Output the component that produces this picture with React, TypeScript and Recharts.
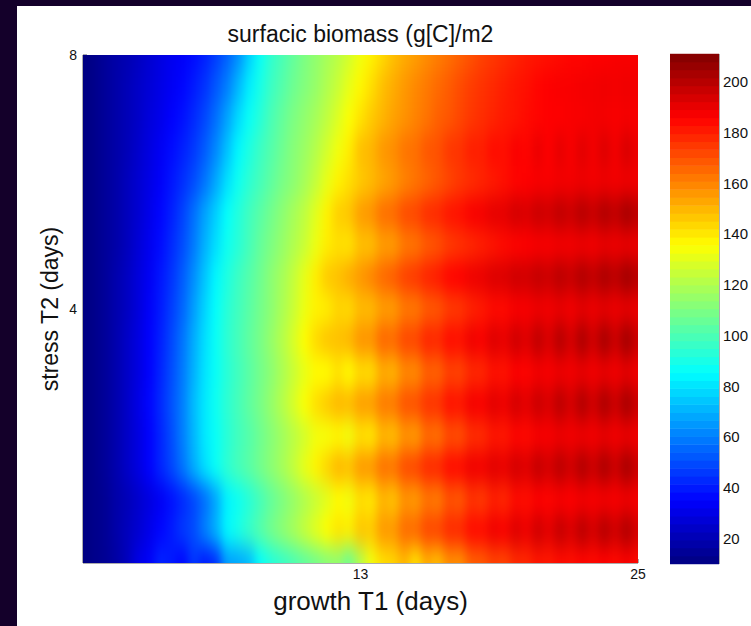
import { Scatter, ScatterChart, XAxis, YAxis } from "recharts";

// growth T1 (days) sample positions, left to right
const t1Grid = [1, 1.48, 1.96, 2.44, 2.92, 3.4, 3.88, 4.36, 4.84, 5.32, 5.8, 6.28, 6.76, 7.24, 7.72, 8.2, 8.68, 9.16, 9.64, 10.12, 10.6, 11.08, 11.56, 12.04, 12.52, 13, 13.48, 13.96, 14.44, 14.92, 15.4, 15.88, 16.36, 16.84, 17.32, 17.8, 18.28, 18.76, 19.24, 19.72, 20.2, 20.68, 21.16, 21.64, 22.12, 22.6, 23.08, 23.56, 24.04, 24.52, 25];
// stress T2 (days) sample positions, top to bottom
const t2Grid = [8, 7.5, 7, 6.5, 6, 5.5, 5, 4.5, 4, 3.5, 3, 2.5, 2, 1.5, 1, 0.5, 0];

// biomass, one row per t2Grid entry
const t2r8 = [10,12,15,18,20,23,26,29,32,34,37,41,47,54,63,76,87,95,100,105,110,114,118,122,127,133,138,143,148,152,155,158,161,164,167,170,173,175,177,179,181,182,183,184,185,185,186,186,187,187,187];
const t2r75 = [10,12,15,18,21,24,27,30,33,36,40,45,52,60,71,82,90,97,102,107,111,115,120,125,131,137,142,148,152,156,159,162,165,168,171,174,176,178,180,182,183,185,186,187,187,188,188,189,188,189,188];
const t2r7 = [10,12,15,18,21,24,28,31,35,38,43,49,57,67,78,87,93,100,105,110,114,118,123,129,135,141,146,150,154,157,160,163,167,169,172,175,177,179,181,182,184,185,186,186,187,187,188,188,187,188,187];
const t2r65 = [10,12,15,18,21,25,29,33,37,41,46,53,62,73,84,91,97,102,107,112,116,121,127,133,139,148,150,156,158,163,164,169,170,175,176,180,180,184,183,187,185,190,186,191,187,192,188,193,188,194,189];
const t2r6 = [10,12,15,18,22,26,30,34,39,44,50,58,68,79,88,94,99,104,109,113,118,124,131,138,142,146,149,153,156,160,163,166,169,172,175,177,179,181,183,185,186,187,187,188,188,189,188,189,188,189,188];
const t2r55 = [10,12,15,18,22,26,31,36,41,48,57,67,76,86,92,98,103,108,113,118,123,130,138,145,147,155,157,164,165,171,172,177,178,182,183,187,188,191,191,195,193,197,195,199,196,201,197,202,198,204,199];
const t2r5 = [10,12,15,18,22,27,32,37,43,50,59,70,79,88,93,99,105,110,115,120,125,132,139,142,141,148,148,155,155,162,163,168,170,174,176,178,180,182,184,185,186,187,187,188,188,189,188,190,189,190,189];
const t2r45 = [10,12,15,19,23,28,33,39,45,53,63,74,84,91,97,102,107,113,118,124,131,139,146,148,152,156,160,165,168,173,175,179,181,185,186,189,190,193,193,196,195,198,196,200,197,202,198,203,199,205,200];
const t2r4 = [10,12,15,19,23,28,34,40,47,55,66,77,86,93,98,103,108,113,119,125,132,138,139,144,143,149,149,155,155,162,162,168,169,174,175,179,181,184,184,187,187,189,188,190,188,191,189,191,189,191,189];
const t2r35 = [10,12,15,19,24,29,35,41,49,58,69,79,87,94,99,104,109,115,121,128,136,143,147,148,150,157,157,166,165,172,172,179,178,184,183,189,187,193,190,196,192,199,193,201,194,203,195,204,196,205,196];
const t2r3 = [10,12,15,19,24,29,35,42,50,59,70,80,87,93,98,103,108,113,119,125,131,136,136,141,136,143,142,152,150,159,158,167,166,173,172,178,178,183,182,186,185,188,187,189,188,190,188,190,188,191,188];
const t2r25 = [10,12,15,19,24,30,36,43,51,60,72,81,88,94,99,104,109,115,121,128,135,142,146,150,149,155,155,162,162,170,170,176,176,183,182,188,187,192,189,195,191,197,193,200,194,202,195,203,196,204,196];
const t2r2 = [10,12,15,19,24,29,35,42,50,60,71,81,87,93,98,102,107,112,117,122,127,133,134,137,133,142,140,150,148,157,155,165,163,171,170,177,177,182,181,185,184,187,187,189,188,189,188,190,188,190,188];
const t2r15 = [10,12,15,19,24,29,35,42,49,58,69,79,87,94,99,103,108,113,118,124,131,138,144,150,148,156,156,164,163,171,172,178,178,184,184,189,188,192,190,195,192,198,194,200,195,202,196,203,196,204,196];
const t2r1 = [10,12,14,18,21,25,29,33,38,43,49,57,68,83,88,93,99,105,110,115,120,125,130,136,133,142,140,150,147,157,155,163,161,170,168,176,174,180,178,184,183,186,185,187,186,188,187,188,187,189,187];
const t2r05 = [10,12,14,18,22,26,31,36,40,46,50,60,70,84,90,96,102,108,113,118,124,130,136,141,139,147,146,156,156,165,165,172,172,178,178,184,184,189,187,193,189,196,191,198,193,200,194,201,195,202,194];
const t2r0 = [10,12,14,17,22,30,34,42,40,36,46,40,44,66,68,72,86,92,96,100,104,108,112,114,106,120,133,142,144,150,141,152,148,158,157,167,168,173,172,178,178,182,181,184,183,185,184,186,184,187,184];
const biomassRows = [t2r8, t2r75, t2r7, t2r65, t2r6, t2r55, t2r5, t2r45, t2r4, t2r35, t2r3, t2r25, t2r2, t2r15, t2r1, t2r05, t2r0];

// one entry per colour band of the colorbar
const barLevels = [11.6,14.7,17.9,21,24.1,27.3,30.4,33.6,36.7,39.8,43,46.1,49.3,52.4,55.5,58.7,61.8,65,68.1,71.2,74.4,77.5,80.7,83.8,86.9,90.1,93.2,96.4,99.5,102.6,105.8,108.9,112.1,115.2,118.3,121.5,124.6,127.8,130.9,134,137.2,140.3,143.5,146.6,149.7,152.9,156,159.2,162.3,165.4,168.6,171.7,174.9,178,181.1,184.3,187.4,190.6,193.7,196.8,200,203.1,206.3,209.4];
const barTicks = [20, 40, 60, 80, 100, 120, 140, 160, 180, 200];
const t1Ticks = [13, 25];
const t2Ticks = [4, 8];

const cMin = 10;
const cMax = 211;
const plot = { left: 83, top: 55, width: 555, height: 508 };
const bar = { left: 670, top: 54, width: 49, height: 510 };
const axisColor = "#5a5a5a";
const font = "'Liberation Sans', Arial, sans-serif";

const cells = biomassRows.flatMap((row, r) => row.map((value, c) => ({ t1: t1Grid[c], t2: t2Grid[r], value, r, c })));
const bands = barLevels.map((level) => ({ x: 0, level }));

function jet(value: number) {
  const t = (value - cMin) / (cMax - cMin);
  const ch = (a: number, b: number) => Math.round(255 * Math.max(0, Math.min(1, a, b)));
  return `rgb(${ch(4 * t - 1.5, -4 * t + 4.5)},${ch(4 * t - 0.5, -4 * t + 3.5)},${ch(4 * t + 0.5, -4 * t + 2.5)})`;
}

function HeatCell({ cx, cy, payload }: any) {
  const w = plot.width / 50;
  const h = plot.height / 16;
  // edge cells run past the plot so the blur has colour to work with
  const x0 = payload.c === 0 ? cx - 40 : cx - w / 2 - 0.5;
  const x1 = payload.c === 50 ? cx + 40 : cx + w / 2 + 0.5;
  const y0 = payload.r === 0 ? cy - 40 : cy - h / 2 - 0.5;
  const y1 = payload.r === 16 ? cy + 40 : cy + h / 2 + 0.5;
  return <rect x={x0} y={y0} width={x1 - x0} height={y1 - y0} fill={jet(payload.value)} />;
}

function BandCell({ cx, cy, payload }: any) {
  const h = bar.height / 64;
  return <rect x={cx - bar.width / 2} y={cy - h / 2 - 0.3} width={bar.width} height={h + 0.6} fill={jet(payload.level)} />;
}

export default function App() {
  return (
    <div style={{ position: "relative", width: 751, height: 626, background: "#14002a", overflow: "hidden" }}>
      <style>{`body { margin: 0; } .heat-layer { filter: url(#soft); }`}</style>
      <div style={{ position: "absolute", left: 17, top: 6, width: 734, height: 620, background: "#fff" }} />
      <div style={{ position: "absolute", left: plot.left, width: plot.width, top: 21, textAlign: "center", font: `23px ${font}`, color: "#111" }}>
        surfacic biomass (g[C]/m2
      </div>
      <div style={{ position: "absolute", left: 0, top: 0 }}>
        <ScatterChart
          width={751}
          height={626}
          margin={{ top: plot.top, left: plot.left - 30, right: 751 - plot.left - plot.width, bottom: 626 - plot.top - plot.height - 30 }}
        >
          <defs>
            <filter id="soft" filterUnits="userSpaceOnUse" x={20} y={5} width={680} height={610} colorInterpolationFilters="sRGB">
              <feGaussianBlur in="SourceGraphic" stdDeviation="4 11" x={plot.left} y={plot.top} width={plot.width} height={plot.height} />
            </filter>
          </defs>
          <XAxis
            dataKey="t1"
            type="number"
            domain={[1, 25]}
            ticks={t1Ticks}
            height={30}
            stroke={axisColor}
            tickSize={-4}
            tickMargin={10}
            tick={{ fill: "#111", fontSize: 14, fontFamily: font }}
            label={{ value: "growth T1 (days)", position: "insideBottom", offset: -17, dx: 10, fontSize: 26, fontFamily: font, fill: "#111" }}
          />
          <XAxis xAxisId="mirror" orientation="top" type="number" domain={[1, 25]} ticks={t1Ticks} height={0} stroke={axisColor} tickSize={-4} tick={false} />
          <YAxis
            dataKey="t2"
            type="number"
            domain={[0, 8]}
            ticks={t2Ticks}
            width={30}
            stroke={axisColor}
            tickSize={-4}
            tickMargin={10}
            tick={{ fill: "#111", fontSize: 14, fontFamily: font }}
            label={{ value: "stress T2 (days)", angle: -90, position: "insideLeft", offset: -3, style: { textAnchor: "middle" }, fontSize: 23, fontFamily: font, fill: "#111" }}
          />
          <YAxis yAxisId="mirror" orientation="right" type="number" domain={[0, 8]} ticks={t2Ticks} width={0} stroke={axisColor} tickSize={-4} tick={false} />
          <Scatter className="heat-layer" data={cells} shape={HeatCell} isAnimationActive={false} />
          <Scatter xAxisId="mirror" yAxisId="mirror" data={[]} isAnimationActive={false} />
        </ScatterChart>
      </div>
      <div style={{ position: "absolute", left: 0, top: 0 }}>
        <ScatterChart
          width={751}
          height={626}
          margin={{ top: bar.top, left: bar.left, right: 751 - bar.left - bar.width - 30, bottom: 626 - bar.top - bar.height }}
        >
          <XAxis dataKey="x" type="number" domain={[-1, 1]} hide />
          <YAxis yAxisId="left" orientation="left" type="number" domain={[cMin, cMax]} ticks={barTicks} width={0} stroke={axisColor} tickSize={-5} tick={false} />
          <YAxis yAxisId="right" dataKey="level" orientation="right" type="number" domain={[cMin, cMax]} ticks={barTicks} width={30} stroke={axisColor} tickSize={-5} tickMargin={9} tick={{ fill: "#111", fontSize: 15, fontFamily: font }} />
          <Scatter yAxisId="right" data={bands} shape={BandCell} isAnimationActive={false} />
          <Scatter yAxisId="left" data={[]} isAnimationActive={false} />
        </ScatterChart>
      </div>
    </div>
  );
}
